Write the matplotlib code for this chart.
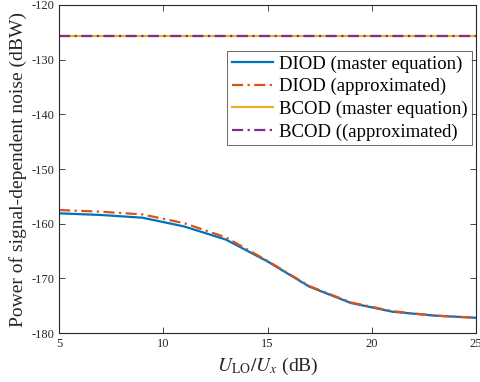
import matplotlib
matplotlib.use("Agg")
import matplotlib.pyplot as plt

plt.rcParams['font.family'] = ['Liberation Serif', 'DejaVu Serif']
plt.rcParams['mathtext.fontset'] = 'stix'

x_db = [5, 7, 9, 11, 13, 15, 17, 19, 21, 23, 25]
diod_master = [-158.1, -158.4, -158.9, -160.5, -162.9, -166.9, -171.5, -174.5, -176.1, -176.8, -177.2]
diod_approx = [-157.5, -157.8, -158.3, -159.9, -162.5, -166.8, -171.4, -174.4, -176.0, -176.8, -177.2]
bcod_master = [-125.7] * len(x_db)
bcod_approx = [-125.7] * len(x_db)

labels = ['DIOD (master equation)', 'DIOD (approximated)',
          'BCOD (master equation)', 'BCOD ((approximated)']
colors = ['#0072BD', '#D95319', '#EDB120', '#7E2F8E']

fig = plt.figure(figsize=(4.8, 3.82), dpi=100)
ax = fig.add_axes([0.123, 0.128, 0.869, 0.859])

ax.plot(x_db, diod_master, color=colors[0], lw=1.6, ls='-', label=labels[0])
ax.plot(x_db, diod_approx, color=colors[1], lw=1.6, ls=(0, (5, 2, 1, 2)), label=labels[1])
ax.plot(x_db, bcod_master, color=colors[2], lw=1.6, ls='-', label=labels[2])
ax.plot(x_db, bcod_approx, color=colors[3], lw=1.6, ls=(0, (5, 2, 1, 2)), label=labels[3])

ax.set_xlim(5, 25)
ax.set_ylim(-180, -120)
ax.set_xticks([5, 10, 15, 20, 25])
ax.set_yticks(range(-180, -119, 10))
ax.set_xticklabels(['5', '10', '15', '20', '25'])
ax.set_yticklabels([str(v) for v in range(-180, -119, 10)])
ax.tick_params(direction='in', top=True, right=True, labelsize=9, colors='#262626', length=4, width=0.6)
for s in ax.spines.values():
    s.set_color('#262626')
    s.set_linewidth(0.8)

ax.set_xlabel(r'$U_{\mathrm{LO}}/U_x$ (dB)', fontsize=14, color='#262626', labelpad=4)
ax.set_ylabel('Power of signal-dependent noise (dBW)', fontsize=14, color='#262626', labelpad=3)

leg = ax.legend(loc='upper right', bbox_to_anchor=(0.99, 0.86), fontsize=13.5,
                frameon=True, fancybox=False, edgecolor='#262626',
                handlelength=2.2, handletextpad=0.3, borderpad=0.25,
                labelspacing=0.28, borderaxespad=0.0)
leg.get_frame().set_linewidth(0.6)

fig.savefig('out.png', dpi=100)
